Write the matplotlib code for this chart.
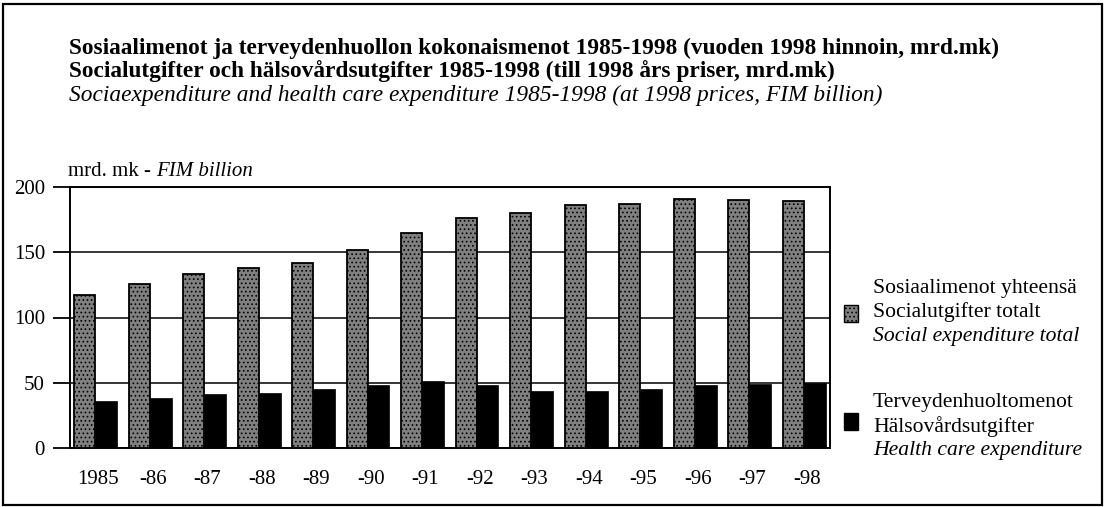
import matplotlib
matplotlib.use("Agg")
import matplotlib.pyplot as plt
from matplotlib.patches import Rectangle
import numpy as np

plt.rcParams['font.family'] = ['Liberation Serif', 'DejaVu Serif']
plt.rcParams['hatch.linewidth'] = 0.7

years = ["1985", "-86", "-87", "-88", "-89", "-90", "-91", "-92", "-93", "-94", "-95", "-96", "-97", "-98"]
social_total = [117, 126, 133, 138, 142, 152, 165, 176, 180, 186, 187, 191, 190, 189]
health_care = [36, 38, 41, 42, 45, 48, 51, 48, 44, 44, 45, 48, 49, 50]
yticks = [0, 50, 100, 150, 200]

W, H = 1108, 507
fig = plt.figure(figsize=(W / 100, H / 100), dpi=100)

# outer border
fig.add_artist(Rectangle((3 / W, 2 / H), 1099 / W, (H - 6) / H, transform=fig.transFigure,
                         fill=False, edgecolor='black', linewidth=1.6))

ax_l, ax_r, ax_t, ax_b = 70, 830, 187, 448
ax = fig.add_axes([ax_l / W, (H - ax_b) / H, (ax_r - ax_l) / W, (ax_b - ax_t) / H])
pitch = 54.5
x = np.arange(len(years))
sw, hw = 21 / pitch, 22 / pitch
s_off = -0.5 + 4 / pitch
social_fc = '#808080'
ax.bar(x + s_off, social_total, width=sw, align='edge', facecolor=social_fc,
       edgecolor='black', hatch='....', linewidth=1.3, zorder=3)
ax.bar(x + s_off + sw, health_care, width=hw, align='edge', facecolor='black',
       edgecolor='black', linewidth=0.5, zorder=3)
ax.set_xlim(-0.5, -0.5 + (ax_r - ax_l) / pitch)
ax.set_ylim(0, 200)
ax.set_yticks(yticks)
ax.set_yticklabels([str(v) for v in yticks], fontsize=15)
ax.set_xticks(x + 0.02)
ax.set_xticklabels(years, fontsize=15)
ax.tick_params(axis='x', length=0, pad=16)
ax.tick_params(axis='y', length=12, width=1.3, direction='out', pad=6)
ax.yaxis.grid(True, color='black', linewidth=1.1, zorder=1)
for s in ax.spines.values():
    s.set_linewidth(1.4)

title_kw = dict(fontsize=16.8, va='baseline', ha='left')
fig.text(69 / W, 1 - 54 / H, "Sosiaalimenot ja terveydenhuollon kokonaismenot 1985-1998 (vuoden 1998 hinnoin, mrd.mk)",
         fontweight='bold', **title_kw)
fig.text(69 / W, 1 - 77.5 / H, "Socialutgifter och hälsovårdsutgifter 1985-1998 (till 1998 års priser, mrd.mk)",
         fontweight='bold', **title_kw)
fig.text(69 / W, 1 - 101 / H, "Sociaexpenditure and health care expenditure 1985-1998 (at 1998 prices, FIM billion)",
         style='italic', **title_kw)

t1 = fig.text(68 / W, 1 - 171 / H, "mrd. mk - ", fontsize=15, va='center', ha='left')
fig.canvas.draw()
bb = t1.get_window_extent()
fig.text(bb.x1 / W, 1 - 171 / H, "FIM billion", fontsize=15, style='italic', va='center', ha='left')

# legend
leg = [
    (social_fc, '....', ["Sosiaalimenot yhteensä", "Socialutgifter totalt", "Social expenditure total"], 288, 314),
    ('black', None, ["Terveydenhuoltomenot", "Hälsovårdsutgifter", "Health care expenditure"], 402, 422),
]
for fc, hatch, lines, ytop, ymark in leg:
    fig.add_artist(Rectangle((844 / W, 1 - (ymark + 8) / H), 14 / W, 17 / H, transform=fig.transFigure,
                             facecolor=fc, hatch=hatch, edgecolor='black', linewidth=1.0))
    for i, txt in enumerate(lines):
        fig.text(873 / W, 1 - (ytop + 24.5 * i) / H, txt, fontsize=15.6,
                 style='italic' if i == 2 else 'normal', va='center', ha='left')

fig.savefig("out.png", dpi=100)
